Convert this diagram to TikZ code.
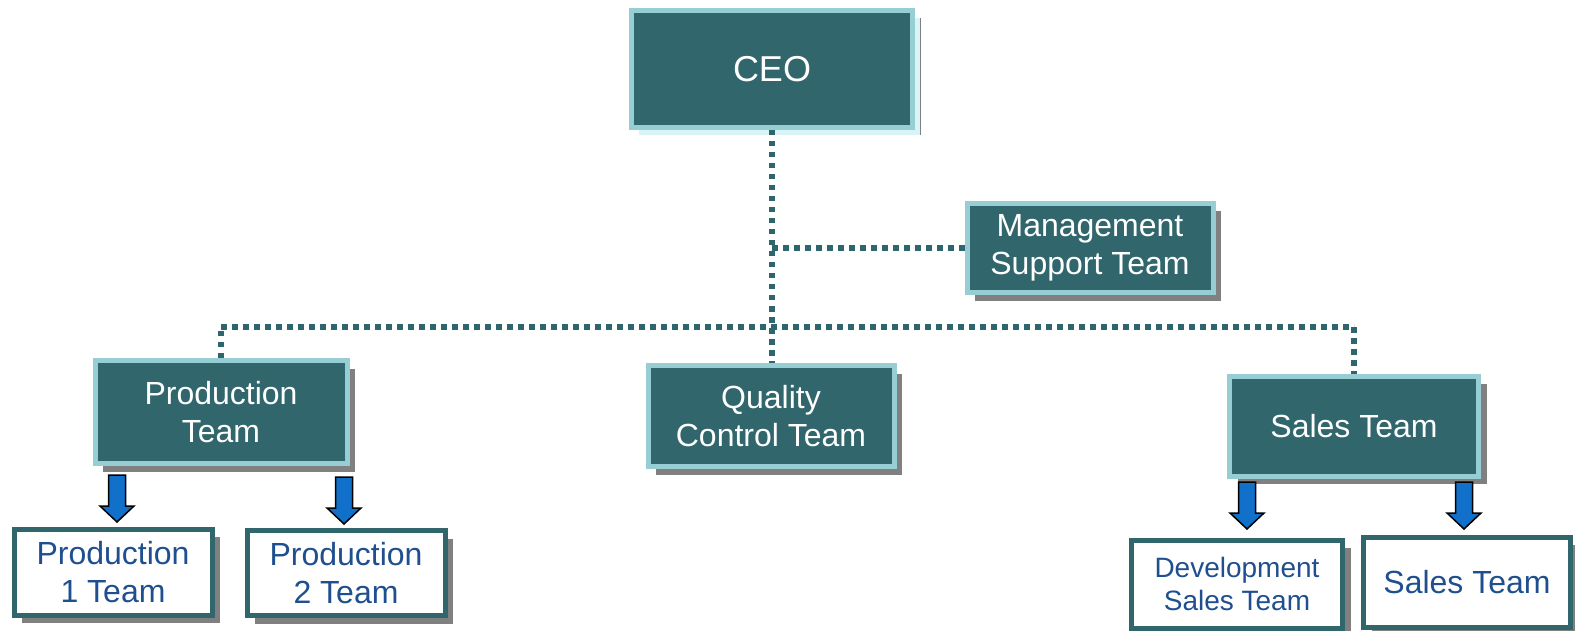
\documentclass[tikz,border=0pt]{standalone}
\usepackage{fontspec}
\setmainfont{Liberation Sans}
\usetikzlibrary{shadows}
\definecolor{teamfill}{HTML}{30666C}
\definecolor{teamedge}{HTML}{96CED3}
\definecolor{ceoshadow}{HTML}{D9F4F7}
\definecolor{boxshadow}{HTML}{808080}
\definecolor{linkcolor}{HTML}{2F666E}
\definecolor{arrowblue}{HTML}{1170C9}
\definecolor{subtext}{HTML}{1F4F8F}

\begin{document}
\begin{tikzpicture}[x=1pt,y=-1pt,semithick]
    \tikzstyle{team}=[draw=teamedge,line width=5pt,fill=teamfill,text=white,inner sep=0pt,align=center,font=\fontsize{32}{38}\selectfont,drop shadow={shadow xshift=8pt,shadow yshift=-8pt,fill=boxshadow,draw=none,opacity=1}]
    \tikzstyle{subteam}=[team,draw=teamfill,fill=white,text=subtext]
    \tikzstyle{dotline}=[draw=linkcolor,line width=5.5pt,dash pattern=on 5.5pt off 5.5pt]
    \tikzset{blockarrow/.pic={\draw[fill=arrowblue,draw=black,line width=1.5pt,line join=miter]
        (-8.5,0) -- (8.5,0) -- (8.5,31) -- (17,31) -- (0,47) -- (-17,31) -- (-8.5,31) -- cycle;}}
    \useasboundingbox (0,0) rectangle (1575,631);
    \node[team,minimum width=281,minimum height=117,font=\fontsize{36}{42}\selectfont,
          drop shadow={shadow xshift=7.5pt,shadow yshift=-7.5pt,fill=ceoshadow,draw=none,opacity=1}]
                                                        (ceo)      at (772,69)   {CEO};
    \node[team,minimum width=246,minimum height=89]     (support)  at (1090,248) {Management\\Support Team};
    \node[team,minimum width=252,minimum height=103]    (prod)     at (221,412)  {Production\\Team};
    \node[team,minimum width=246,minimum height=101]    (quality)  at (771,416)  {Quality\\Control Team};
    \node[team,minimum width=249,minimum height=100]    (sales)    at (1354,426) {Sales Team};
    \node[subteam,minimum width=198,minimum height=86]  (prodone)  at (113,572)  {Production\\1 Team};
    \node[subteam,minimum width=198,minimum height=85]  (prodtwo)  at (346,573)  {Production\\2 Team};
    \node[subteam,minimum width=211,minimum height=88,font=\fontsize{28}{33}\selectfont]
                                                        (devsales) at (1237,584) {Development\\Sales Team};
    \node[subteam,minimum width=207,minimum height=90]  (salesone) at (1467,582) {Sales Team};
    \coordinate (bus) at (771,327);
    \path[dotline]
        (ceo.south)  edge (ceo.south |- quality.north)
        (ceo.south |- support.west) edge (support.west)
        (prod.north) edge (prod.north |- bus)
        (prod.north |- bus) edge (sales.north |- bus)
        (sales.north |- bus) edge (sales.north);
    \pic at (117,475)  {blockarrow};
    \pic at (344,477)  {blockarrow};
    \pic at (1247,482) {blockarrow};
    \pic at (1464,482) {blockarrow};
\end{tikzpicture}
\end{document}
